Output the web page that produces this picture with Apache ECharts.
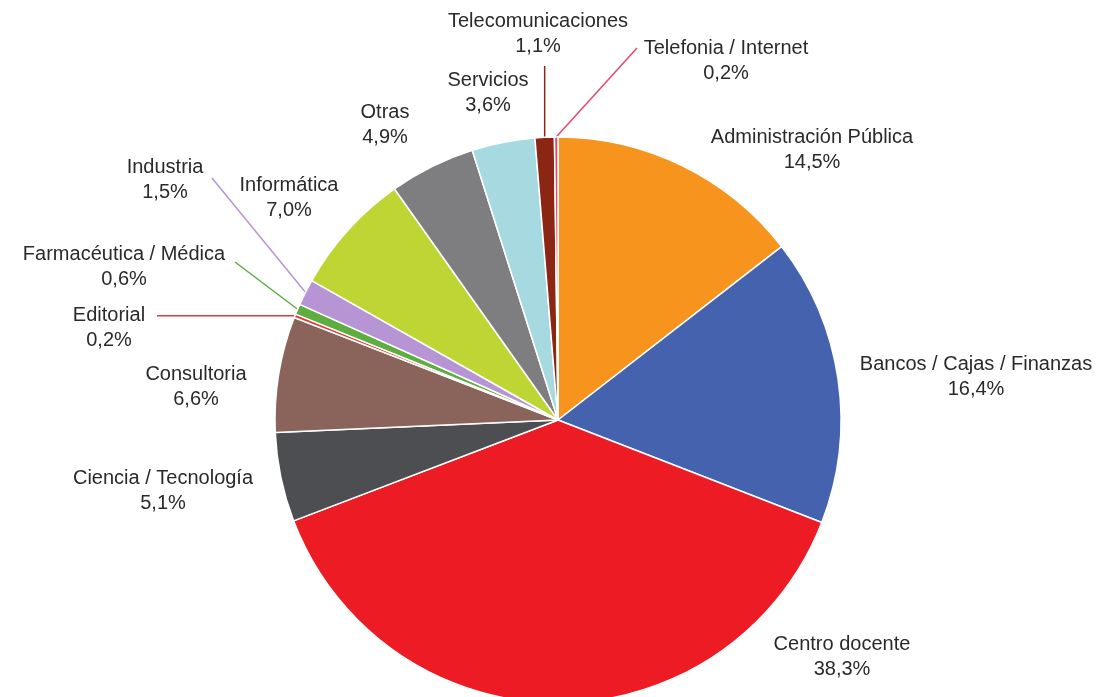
<!DOCTYPE html>
<html>
<head>
<meta charset="utf-8">
<script src="https://cdn.jsdelivr.net/npm/echarts@6/dist/echarts.min.js"></script>
<style>
html,body{margin:0;padding:0;background:#fff;}
#chart{width:1098px;height:697px;}
</style>
</head>
<body>
<div id="chart"></div>
<script>
// ---- data ----
const categories = [
  'Administración Pública',
  'Bancos / Cajas / Finanzas',
  'Centro docente',
  'Ciencia / Tecnología',
  'Consultoria',
  'Editorial',
  'Farmacéutica / Médica',
  'Industria',
  'Informática',
  'Otras',
  'Servicios',
  'Telecomunicaciones',
  'Telefonia / Internet'
];
const values = [14.5, 16.4, 38.3, 5.1, 6.6, 0.2, 0.6, 1.5, 7.0, 4.9, 3.6, 1.1, 0.2];

// ---- styles / layout ----
const colors = ['#F7941D', '#4462AD', '#ED1C24', '#4C4E51', '#8A645A', '#E0393F', '#5DAE3F',
  '#B794D4', '#BED534', '#7E7E81', '#A6D9E0', '#8B2614', '#E8466A'];
const labelPos = [
  [812, 150], [976, 377], [842, 657], [163, 491], [196, 387], [109, 328], [124, 267],
  [165, 180], [289, 198], [385, 125], [488, 93], [538, 34], [726, 61]
];
// label-side end of leader lines (null coordinate = keep the slice point's coordinate)
const leaderEnd = {
  5: [157, null],
  6: [235, 262],
  7: [212, 178],
  11: [null, 66],
  12: [637, 48]
};

const data = categories.map((c, i) => ({
  name: c,
  value: values[i],
  itemStyle: { color: colors[i] },
  labelLine: { show: leaderEnd[i] !== undefined, lineStyle: { color: colors[i], width: 1.5 } }
}));

const chart = echarts.init(document.getElementById('chart'));
chart.setOption({
  animation: false,
  backgroundColor: '#fff',
  series: [{
    type: 'pie',
    center: [558, 420],
    radius: 283,
    startAngle: 90,
    clockwise: true,
    avoidLabelOverlap: false,
    minShowLabelAngle: 0,
    data: data,
    itemStyle: { borderColor: '#fff', borderWidth: 1.5 },
    label: {
      show: true,
      position: 'outside',
      fontFamily: 'Liberation Sans',
      fontSize: 20,
      lineHeight: 25,
      color: '#2a2a2a',
      align: 'center',
      formatter: p => p.name + '\n' + p.value.toFixed(1).replace('.', ',') + '%'
    },
    labelLine: { show: false, length: 10, length2: 10, smooth: false },
    emphasis: { disabled: true },
    labelLayout: function (p) {
      const i = p.dataIndex;
      const pos = labelPos[i];
      const res = { x: pos[0], y: pos[1], align: 'center', verticalAlign: 'middle', hideOverlap: false };
      const le = leaderEnd[i];
      if (le && p.labelLinePoints) {
        const a = p.labelLinePoints[0];
        const b = [le[0] === null ? a[0] : le[0], le[1] === null ? a[1] : le[1]];
        res.labelLinePoints = [a, b, b];
      }
      return res;
    }
  }]
});
</script>
</body>
</html>
